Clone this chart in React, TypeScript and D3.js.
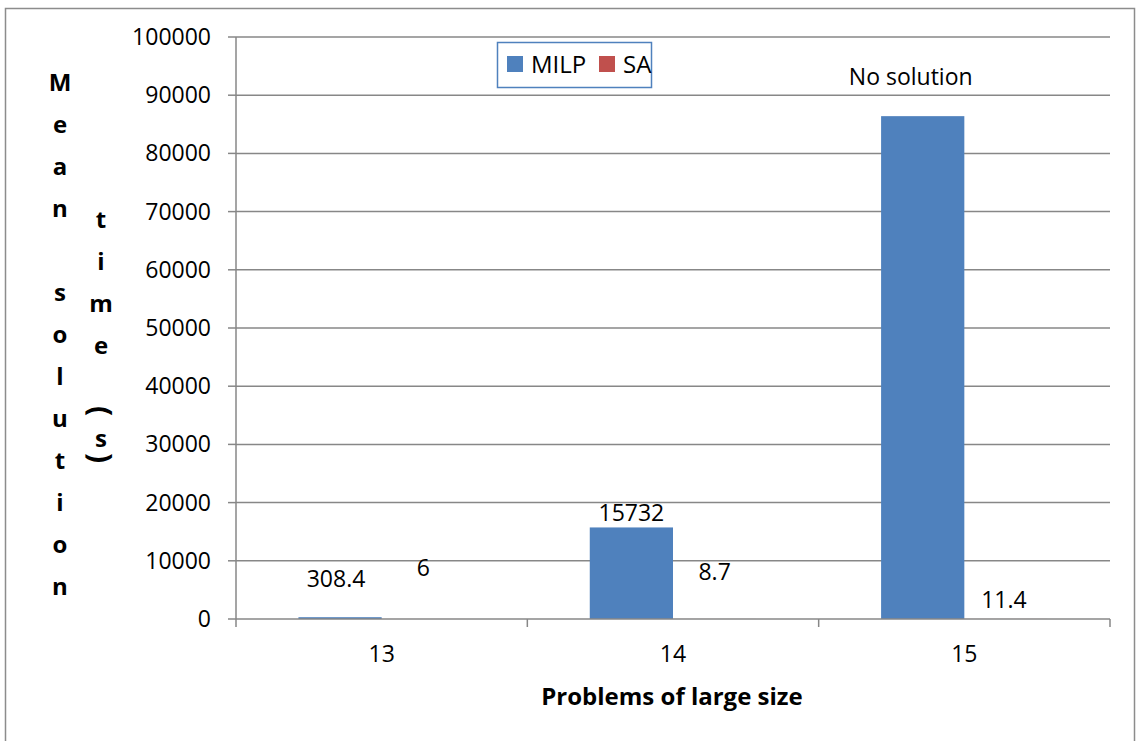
import React, { useEffect, useRef } from 'react';
import * as d3 from 'd3';

const categories = ['13', '14', '15'];
const seriesNames = ['MILP', 'SA'];
const milp = [308.4, 15732, 86400];
const sa = [6, 8.7, 11.4];
const milpLabels = ['308.4', '15732', 'No solution'];
const saLabels = ['6', '8.7', '11.4'];
const yTicks = [0, 10000, 20000, 30000, 40000, 50000, 60000, 70000, 80000, 90000, 100000];
const colors = ['#4F81BD', '#C0504D'];

// manual label nudges (dx, dy) like the hand-placed Excel labels
const milpLabelNudge: [number, number][] = [[-4, -30], [0, -6], [-12, -31]];
const saLabelNudge: [number, number][] = [[0, -43], [0, -39], [-2, -11]];

const yTitleCol1 = 'Mean solution'.split('');
const yTitleCol2 = ['t', 'i', 'm', 'e', ' ', '(', 's', ')'];

export default function App() {
  const svgRef = useRef<SVGSVGElement>(null);
  const width = 1139;
  const height = 741;

  useEffect(() => {
    document.body.style.margin = '0';
    if (!svgRef.current) return;
    const svg = d3.select(svgRef.current);
    svg.selectAll('*').remove();

    const font = '"Open Sans", sans-serif';
    const grid = '#878787';
    const margin = { top: 37, left: 236, right: 29, bottom: 122 };
    const innerW = width - margin.left - margin.right;
    const innerH = height - margin.top - margin.bottom;

    // outer chart border
    svg.append('rect')
      .attr('x', 5.5).attr('y', 8.5)
      .attr('width', 1129).attr('height', 760)
      .attr('fill', 'white').attr('stroke', '#8c8c8c').attr('stroke-width', 1.5);

    const g = svg.append('g').attr('transform', `translate(${margin.left},${margin.top})`);

    const x = d3.scaleBand().domain(categories).range([0, innerW]);
    const y = d3.scaleLinear().domain([0, 100000]).range([innerH, 0]);
    const barW = x.bandwidth() / 3.5;

    // gridlines
    g.selectAll('.grid')
      .data(yTicks.filter((t) => t > 0))
      .enter()
      .append('line')
      .attr('x1', 0).attr('x2', innerW)
      .attr('y1', (d) => y(d)).attr('y2', (d) => y(d))
      .attr('stroke', grid).attr('stroke-width', 1.5);

    // y axis
    g.append('line').attr('x1', 0).attr('x2', 0).attr('y1', 0).attr('y2', innerH)
      .attr('stroke', grid).attr('stroke-width', 1.5);
    g.selectAll('.ytick')
      .data(yTicks)
      .enter()
      .append('line')
      .attr('x1', -8).attr('x2', 0)
      .attr('y1', (d) => y(d)).attr('y2', (d) => y(d))
      .attr('stroke', grid).attr('stroke-width', 1.5);
    g.selectAll('.ylab')
      .data(yTicks)
      .enter()
      .append('text')
      .attr('x', -25)
      .attr('y', (d) => y(d) + 8)
      .attr('text-anchor', 'end')
      .style('font-family', font).style('font-size', '23px').attr('fill', '#000')
      .text((d) => String(d));

    // bars
    const series = [milp, sa];
    series.forEach((vals, si) => {
      g.selectAll(`.bar${si}`)
        .data(vals)
        .enter()
        .append('rect')
        .attr('x', (_, i) => (x(categories[i]) || 0) + barW * 0.75 + si * barW)
        .attr('y', (d) => y(d))
        .attr('width', barW)
        .attr('height', (d) => innerH - y(d))
        .attr('fill', colors[si]);
    });

    // x axis
    g.append('line').attr('x1', 0).attr('x2', innerW).attr('y1', innerH).attr('y2', innerH)
      .attr('stroke', grid).attr('stroke-width', 1.5);
    const bounds = categories.map((c) => x(c) || 0).concat([innerW]);
    g.selectAll('.xtick')
      .data(bounds)
      .enter()
      .append('line')
      .attr('x1', (d) => d).attr('x2', (d) => d)
      .attr('y1', innerH).attr('y2', innerH + 8)
      .attr('stroke', grid).attr('stroke-width', 1.5);
    g.selectAll('.xlab')
      .data(categories)
      .enter()
      .append('text')
      .attr('x', (d) => (x(d) || 0) + x.bandwidth() / 2)
      .attr('y', innerH + 43)
      .attr('text-anchor', 'middle')
      .style('font-family', font).style('font-size', '23px')
      .text((d) => d);

    // data labels
    const labelSets = [
      { vals: milp, labels: milpLabels, nudge: milpLabelNudge, si: 0 },
      { vals: sa, labels: saLabels, nudge: saLabelNudge, si: 1 },
    ];
    labelSets.forEach(({ vals, labels, nudge, si }) => {
      g.selectAll(`.dl${si}`)
        .data(vals)
        .enter()
        .append('text')
        .attr('x', (_, i) => (x(categories[i]) || 0) + barW * 0.75 + si * barW + barW / 2 + nudge[i][0])
        .attr('y', (d, i) => y(d) + nudge[i][1])
        .attr('text-anchor', 'middle')
        .style('font-family', font).style('font-size', '23px')
        .text((_, i) => labels[i]);
    });

    // x title
    svg.append('text')
      .attr('x', 672).attr('y', 705)
      .attr('text-anchor', 'middle')
      .style('font-family', font).style('font-size', '24px').style('font-weight', 'bold')
      .text('Problems of large size');

    // y title, stacked letters in two columns
    const t1 = svg.append('text')
      .style('font-family', font).style('font-size', '24px').style('font-weight', 'bold')
      .attr('text-anchor', 'middle');
    yTitleCol1.forEach((ch, i) => {
      t1.append('tspan').attr('x', 60).attr('y', 91 + i * 42).text(ch === ' ' ? '\u00a0' : ch);
    });
    const col2Y = [228, 270, 312, 354, 396, 411, 447, 458];
    yTitleCol2.forEach((ch, i) => {
      if (ch === ' ') return;
      if (ch === '(' || ch === ')') {
        // vertical-text style: parentheses turned on their side
        svg.append('g')
          .attr('transform', `translate(101,${col2Y[i]}) rotate(90)`)
          .append('text')
          .attr('x', 0).attr('y', 0)
          .attr('text-anchor', 'middle')
          .attr('dominant-baseline', 'central')
          .style('font-family', font).style('font-size', '30px').style('font-weight', 'bold')
          .text(ch);
      } else {
        svg.append('text')
          .attr('x', 101).attr('y', col2Y[i])
          .attr('text-anchor', 'middle')
          .style('font-family', font).style('font-size', '24px').style('font-weight', 'bold')
          .text(ch);
      }
    });

    // legend
    const lg = svg.append('g');
    lg.append('rect')
      .attr('x', 497.5).attr('y', 42.5).attr('width', 154).attr('height', 45)
      .attr('fill', 'white').attr('stroke', '#4F81BD').attr('stroke-width', 1.5);
    const legendX = [507, 599];
    seriesNames.forEach((name, i) => {
      lg.append('rect')
        .attr('x', legendX[i]).attr('y', 56).attr('width', 16).attr('height', 16)
        .attr('fill', colors[i]);
      lg.append('text')
        .attr('x', legendX[i] + 24).attr('y', 73)
        .style('font-family', font).style('font-size', '24px')
        .text(name);
    });
  }, []);

  return <svg ref={svgRef} width={width} height={height} style={{ display: 'block' }} />;
}
